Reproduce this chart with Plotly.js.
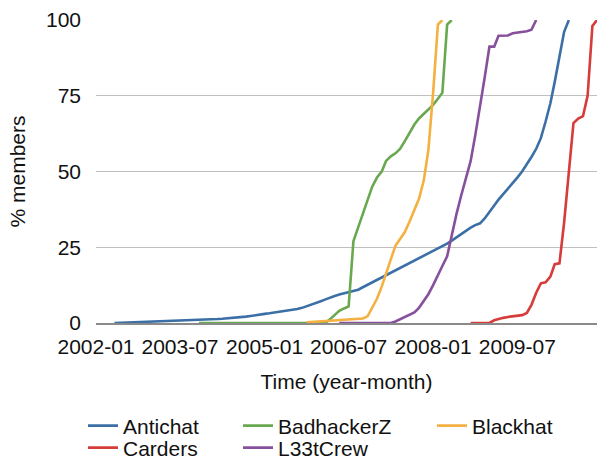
<!DOCTYPE html>
<html>
<head>
<meta charset="utf-8">
<script src="https://cdn.plot.ly/plotly-3.0.1.min.js"></script>
<style>html,body{margin:0;padding:0;background:#fff;}#chart{width:597px;height:461px;}</style>
</head>
<body>
<div id="chart"></div>
<script>
// Month categories 2002-01 .. 2010-12
const firstYear = 2002, lastYear = 2010;
const months = [];
for (let y = firstYear; y <= lastYear; y++) {
  for (let m = 1; m <= 12; m++) months.push(y + '-' + String(m).padStart(2, '0'));
}
const tickLabels = ['2002-01', '2003-07', '2005-01', '2006-07', '2008-01', '2009-07'];
const seriesNames = ['Antichat', 'BadhackerZ', 'Blackhat', 'Carders', 'L33tCrew'];

// first month of each series and its values (% members)
const antichatStart = '2002-05';
const antichat = [0.0,0.05,0.1,0.15,0.2,0.25,0.3,0.35,0.4,0.45,0.5,0.55,0.6,0.65,0.7,0.8,0.85,0.9,
  1.0,1.05,1.1,1.2,1.3,1.4,1.5,1.6,1.7,1.9,2.1,2.3,2.6,2.8,3.0,3.2,3.4,3.6,3.9,4.1,4.35,
  4.6,5.0,5.5,6.0,6.5,7.2,7.8,8.4,8.9,9.4,9.8,10.2,10.6,11.0,11.8,12.6,13.4,14.2,15.0,15.8,
  16.6,17.4,18.1,18.9,19.7,20.5,21.3,22.1,22.8,23.6,24.4,25.3,26.2,27.2,28.3,29.3,30.4,31.5,
  32.3,32.9,34.5,36.8,38.8,40.7,42.5,44.2,46.0,48.0,50.0,52.3,54.8,57.5,61.0,66.5,72.5,79.5,
  87.5,96.0,100];

const badhackerzStart = '2003-11';
const badhackerz = [0,0,0,0,0,0,0,0,0,0,0,0,0,0,0,0,0,0,0,0,0,0,0,0,0,0,0,0,
  1.2,2.8,4.0,4.8,5.5,27.0,31.5,36.0,40.5,45.0,48.0,50.0,53.5,55.0,56.0,57.5,60.0,63.0,65.5,
  67.5,69.0,70.5,72.0,74.0,76.0,98.5,100];

const blackhatStart = '2005-10';
const blackhat = [0.2,0.3,0.4,0.5,0.6,0.7,0.8,0.9,1.0,1.1,1.2,1.3,1.5,2.2,5.0,8.0,12.0,16.5,21.0,
  25.5,28.0,30.0,33.5,37.5,41.0,47.0,57.0,76.0,98.5,100];

const cardersStart = '2008-09';
const carders = [0,0,0,0,0,0.9,1.4,1.7,2.0,2.2,2.4,2.6,3.3,6.0,10.0,13.1,13.4,15.3,19.4,19.7,
  33.0,50.0,66.0,67.5,68.3,75.0,98.0,100];

const l33tcrewStart = '2006-05';
const l33tcrew = [0,0,0,0,0,0,0,0,0,0,0,0,0.5,1.3,2.0,2.7,3.5,5.0,7.2,9.5,12.5,15.5,18.8,22.0,
  29.0,36.0,42.0,47.5,53.5,62.0,71.0,81.0,91.2,91.2,94.8,94.8,94.9,95.6,95.8,96.0,96.3,96.8,100];

const colors = ['#3b6fa6', '#68a84f', '#f4b040', '#d63c39', '#87509c'];

function xs(start, vals) {
  const i = months.indexOf(start);
  return months.slice(i, i + vals.length);
}

const data = [
  [antichatStart, antichat], [badhackerzStart, badhackerz], [blackhatStart, blackhat],
  [cardersStart, carders], [l33tcrewStart, l33tcrew]
];
const legendIds = ['legend', 'legend2', 'legend3', 'legend4', 'legend5'];
const traces = data.map((d, k) => ({
  type: 'scatter', mode: 'lines', name: seriesNames[k],
  x: xs(d[0], d[1]), y: d[1],
  line: {color: colors[k], width: 2.6},
  legend: legendIds[k],
  hoverinfo: 'skip'
}));

const FONT = 'Liberation Sans, Arial, Helvetica, sans-serif';
const legendBase = {xanchor: 'left', yanchor: 'middle', bgcolor: 'rgba(0,0,0,0)',
  font: {family: FONT, size: 21, color: '#111'}, orientation: 'v'};
// pixel-to-paper helpers for legend placement
const L = 96, R = 597, T = 20, B = 323;
const px = v => (v - L) / (R - L);
const py = v => (B - v) / (B - T);

const layout = {
  width: 597, height: 461,
  margin: {l: L, r: 597 - R, t: T, b: 461 - B, autoexpand: false},
  paper_bgcolor: '#fff', plot_bgcolor: '#fff',
  font: {family: FONT, size: 21, color: '#111'},
  xaxis: {
    type: 'date',
    range: [months[0], months[months.length - 1]],
    tickvals: tickLabels, ticktext: tickLabels,
    showgrid: false, zeroline: false,
    showline: true, linecolor: '#8a8a8a', linewidth: 2,
    ticks: '', ticklabelstandoff: 4,
    layer: 'below traces',
    title: {text: 'Time (year-month)', font: {family: FONT, size: 21, color: '#111'}, standoff: 17}
  },
  yaxis: {
    range: [0, 100],
    tickvals: [0, 25, 50, 75, 100],
    showgrid: true, gridcolor: '#c0c0c0', gridwidth: 1.3,
    zeroline: false, showline: false, ticks: '', ticklabelstandoff: 14,
    layer: 'below traces',
    title: {text: '% members', font: {family: FONT, size: 21, color: '#111'}, standoff: 14}
  },
  legend:  Object.assign({}, legendBase, {x: px(83),  y: py(426)}),
  legend2: Object.assign({}, legendBase, {x: px(238), y: py(426)}),
  legend3: Object.assign({}, legendBase, {x: px(432), y: py(426)}),
  legend4: Object.assign({}, legendBase, {x: px(83),  y: py(448)}),
  legend5: Object.assign({}, legendBase, {x: px(238), y: py(448)}),
  showlegend: true
};

Plotly.newPlot('chart', traces, layout, {staticPlot: true, displayModeBar: false});
</script>
</body>
</html>
